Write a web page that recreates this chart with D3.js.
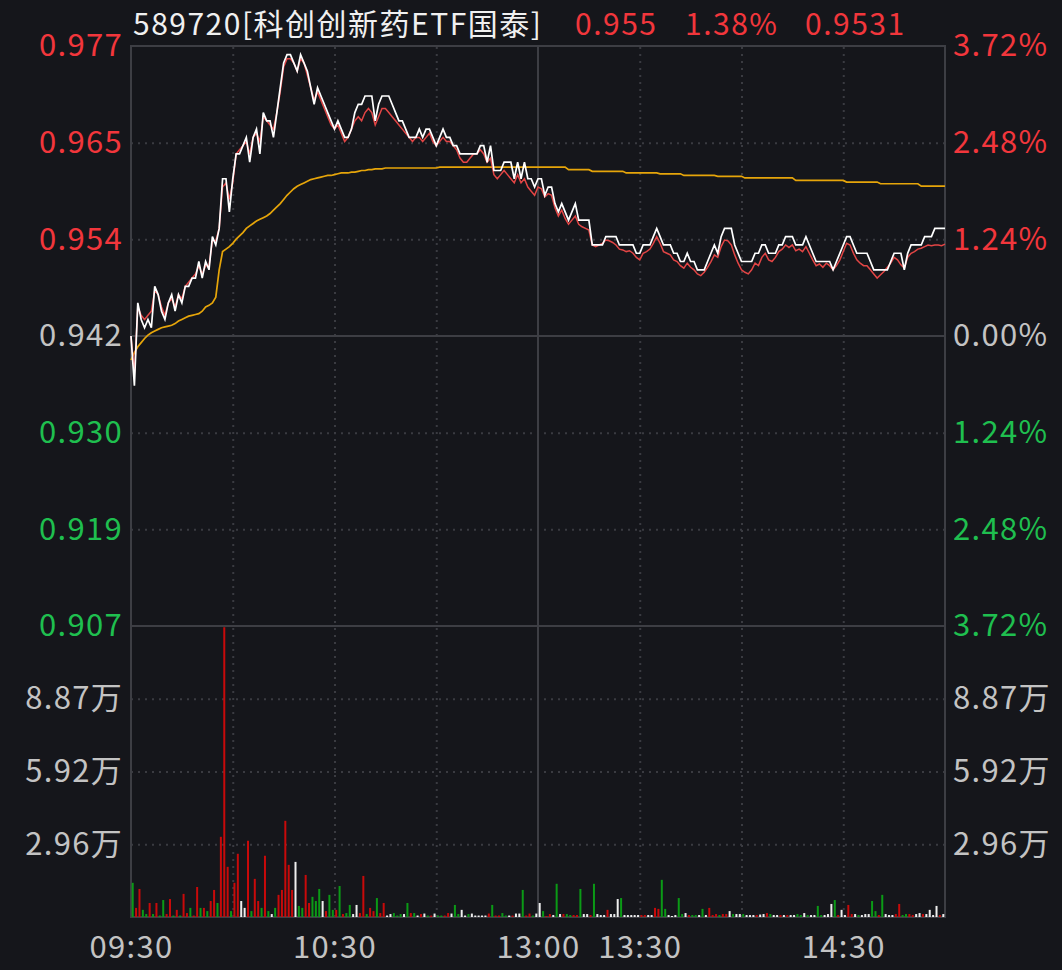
<!DOCTYPE html>
<html><head><meta charset="utf-8">
<script src="https://cdn.jsdelivr.net/npm/d3@7/dist/d3.min.js"></script>
<style>
html,body{margin:0;padding:0;background:#15161b;}
svg{display:block;}
text{font-family:"Noto Sans CJK SC","Noto Sans",sans-serif;}
</style></head>
<body><svg id="c" width="1062" height="970"></svg>
<script>
// ---------- data ----------
const titleName = "589720[科创创新药ETF国泰]";
const titleValues = ["0.955", "1.38%", "0.9531"];
const prevClose = 0.942;
const pctTicks = [3.72, 2.48, 1.24, 0, -1.24, -2.48, -3.72];
const priceTickLabels = ["0.977","0.965","0.954","0.942","0.930","0.919","0.907"];
const pctTickLabels = ["3.72%","2.48%","1.24%","0.00%","1.24%","2.48%","3.72%"];
const volTicks = [2.96, 5.92, 8.87];           // 万
const volTickLabels = ["2.96万","5.92万","8.87万"];
const volMax = 11.83;
const timeTickIdx = [0, 60, 120, 150, 210];
const timeTickLabels = ["09:30","10:30","13:00","13:30","14:30"];
const dottedTimeIdx = [30, 60, 90, 150, 180, 210];

// price (white), minute 0..240
const price = [
0.942,0.936,0.946,0.944,0.943,0.944,0.943,0.948,0.947,0.945,
0.944,0.946,0.947,0.945,0.947,0.946,0.948,0.948,0.949,0.949,
0.951,0.949,0.951,0.950,0.954,0.953,0.955,0.961,0.961,0.957,
0.961,0.964,0.964,0.965,0.966,0.963,0.966,0.967,0.964,0.969,
0.968,0.968,0.966,0.969,0.972,0.975,0.976,0.976,0.975,0.974,
0.976,0.975,0.974,0.972,0.970,0.972,0.971,0.970,0.969,0.968,
0.967,0.968,0.967,0.966,0.966,0.967,0.969,0.970,0.970,0.971,
0.971,0.971,0.968,0.970,0.971,0.971,0.971,0.970,0.969,0.968,
0.968,0.967,0.966,0.966,0.966,0.967,0.966,0.967,0.967,0.966,
0.965,0.966,0.967,0.966,0.966,0.965,0.965,0.964,0.964,0.964,
0.964,0.964,0.964,0.965,0.965,0.963,0.965,0.962,0.962,0.962,
0.963,0.963,0.963,0.961,0.963,0.961,0.963,0.961,0.961,0.960,
0.961,
0.961,0.959,0.960,0.960,0.958,0.957,0.958,0.957,0.956,
0.957,0.958,0.956,0.956,0.956,0.956,0.953,0.953,0.953,0.953,
0.954,0.954,0.954,0.954,0.953,0.953,0.953,0.953,0.953,0.952,
0.952,0.953,0.953,0.953,0.954,0.955,0.954,0.953,0.953,0.953,
0.952,0.952,0.951,0.951,0.952,0.951,0.951,0.950,0.950,0.950,
0.951,0.952,0.953,0.952,0.954,0.955,0.955,0.955,0.953,0.952,
0.951,0.951,0.951,0.951,0.952,0.952,0.953,0.953,0.952,0.952,
0.952,0.953,0.953,0.954,0.954,0.954,0.953,0.953,0.953,0.954,
0.953,0.952,0.951,0.951,0.951,0.951,0.951,0.950,0.951,0.952,
0.953,0.954,0.954,0.953,0.952,0.952,0.952,0.952,0.951,0.950,
0.950,0.950,0.950,0.950,0.951,0.952,0.952,0.952,0.950,0.952,
0.953,0.953,0.953,0.953,0.954,0.954,0.954,0.955,0.955,0.955,
0.955];

// IOPV (red), minute 0..240
const iopv = [
0.9420,0.9375,0.9455,0.9445,0.9440,0.9445,0.9450,0.9475,0.9470,0.9455,
0.9445,0.9460,0.9465,0.9455,0.9470,0.9465,0.9480,0.9485,0.9490,0.9495,
0.9505,0.9495,0.9505,0.9505,0.9535,0.9535,0.9550,0.9600,0.9605,0.9585,
0.9605,0.9640,0.9645,0.9650,0.9655,0.9640,0.9660,0.9665,0.9655,0.9685,
0.9680,0.9675,0.9670,0.9690,0.9715,0.9745,0.9755,0.9755,0.9750,0.9740,
0.9755,0.9750,0.9735,0.9720,0.9705,0.9715,0.9705,0.9695,0.9685,0.9675,
0.9670,0.9675,0.9665,0.9655,0.9660,0.9670,0.9680,0.9685,0.9680,0.9690,
0.9695,0.9690,0.9675,0.9685,0.9695,0.9695,0.9690,0.9685,0.9680,0.9675,
0.9670,0.9665,0.9660,0.9655,0.9660,0.9660,0.9655,0.9660,0.9665,0.9655,
0.9650,0.9655,0.9660,0.9655,0.9655,0.9650,0.9645,0.9635,0.9630,0.9630,
0.9635,0.9640,0.9640,0.9645,0.9640,0.9630,0.9635,0.9615,0.9610,0.9615,
0.9620,0.9615,0.9610,0.9605,0.9615,0.9605,0.9610,0.9600,0.9595,0.9590,
0.9600,
0.9598,0.9588,0.9592,0.9590,0.9575,0.9565,0.9572,0.9562,0.9555,
0.9560,0.9565,0.9555,0.9552,0.9550,0.9548,0.9530,0.9528,0.9530,0.9532,
0.9536,0.9535,0.9533,0.9530,0.9525,0.9524,0.9522,0.9523,0.9520,0.9515,
0.9512,0.9520,0.9522,0.9525,0.9532,0.9540,0.9532,0.9522,0.9520,0.9518,
0.9512,0.9510,0.9505,0.9502,0.9508,0.9503,0.9500,0.9495,0.9493,0.9497,
0.9503,0.9510,0.9518,0.9515,0.9528,0.9536,0.9535,0.9530,0.9518,0.9508,
0.9500,0.9497,0.9495,0.9500,0.9508,0.9505,0.9515,0.9520,0.9512,0.9510,
0.9515,0.9522,0.9525,0.9530,0.9527,0.9530,0.9523,0.9525,0.9522,0.9528,
0.9520,0.9512,0.9505,0.9507,0.9503,0.9508,0.9505,0.9500,0.9505,0.9512,
0.9522,0.9532,0.9530,0.9520,0.9512,0.9508,0.9505,0.9505,0.9500,0.9495,
0.9490,0.9494,0.9498,0.9503,0.9508,0.9515,0.9512,0.9506,0.9502,0.9515,
0.9520,0.9522,0.9525,0.9526,0.9528,0.9530,0.9529,0.9530,0.9530,0.9529,
0.9531];

// average price (yellow), minute 0..240
const avgPrice = [
0.9391,0.9400,0.9407,0.9412,0.9417,0.9421,0.9424,0.9426,0.9428,0.9430,
0.9431,0.9432,0.9433,0.9435,0.9438,0.9440,0.9442,0.9444,0.9445,0.9446,
0.9447,0.9450,0.9455,0.9457,0.9460,0.9467,0.9500,0.9522,0.9525,0.9528,
0.9532,0.9537,0.9541,0.9545,0.9550,0.9553,0.9556,0.9559,0.9561,0.9563,
0.9565,0.9568,0.9572,0.9576,0.9580,0.9585,0.9590,0.9594,0.9598,0.9601,
0.9603,0.9605,0.9607,0.9609,0.9610,0.9611,0.9612,0.9613,0.9614,0.9614,
0.9615,0.9616,0.9617,0.9617,0.9617,0.9618,0.9618,0.9619,0.9620,0.9620,
0.9621,0.9621,0.9622,0.9622,0.9622,0.9623,0.9623,0.9623,0.9623,0.9623,
0.9623,0.9623,0.9623,0.9623,0.9623,0.9623,0.9623,0.9623,0.9623,0.9623,
0.9623,0.9624,0.9624,0.9624,0.9624,0.9624,0.9624,0.9624,0.9624,0.9624,
0.9624,0.9624,0.9624,0.9624,0.9624,0.9624,0.9624,0.9624,0.9624,0.9624,
0.9624,0.9624,0.9624,0.9624,0.9624,0.9624,0.9624,0.9624,0.9624,0.9624,
0.9624,
0.9624,0.9624,0.9624,0.9624,0.9624,0.9624,0.9624,0.9624,0.9621,
0.9621,0.9621,0.9621,0.9621,0.9621,0.9621,0.9619,0.9619,0.9619,0.9619,
0.9619,0.9619,0.9619,0.9619,0.9619,0.9619,0.9617,0.9617,0.9617,0.9617,
0.9617,0.9617,0.9617,0.9617,0.9617,0.9617,0.9616,0.9616,0.9616,0.9616,
0.9616,0.9616,0.9616,0.9614,0.9614,0.9614,0.9614,0.9614,0.9614,0.9614,
0.9614,0.9614,0.9614,0.9613,0.9613,0.9613,0.9613,0.9613,0.9613,0.9613,
0.9613,0.9611,0.9611,0.9611,0.9611,0.9611,0.9611,0.9611,0.9611,0.9611,
0.9611,0.9611,0.9611,0.9611,0.9611,0.9611,0.9608,0.9608,0.9608,0.9608,
0.9608,0.9608,0.9608,0.9608,0.9608,0.9608,0.9608,0.9608,0.9608,0.9608,
0.9608,0.9606,0.9606,0.9606,0.9606,0.9606,0.9606,0.9606,0.9606,0.9606,
0.9606,0.9604,0.9604,0.9604,0.9604,0.9604,0.9604,0.9604,0.9604,0.9604,
0.9604,0.9604,0.9604,0.9601,0.9601,0.9601,0.9601,0.9601,0.9601,0.9601,
0.9601];

// volume per minute bar (万), 240 bars
const volume = [
1.39,0.37,1.14,0.29,0.12,0.57,0.12,0.57,0.06,0.69,
0.12,0.73,0.06,0.29,0.06,0.94,0.16,0.37,0.06,1.22,
0.37,0.37,0.24,0.65,1.10,0.57,3.26,11.78,2.04,0.24,
1.39,2.57,0.65,0.37,3.10,0.24,1.55,0.65,0.37,2.49,
0.24,0.12,0.37,0.90,1.10,3.91,2.12,1.10,2.24,0.45,
0.37,1.71,0.57,0.82,0.65,1.14,0.65,0.24,0.90,0.29,
0.29,1.26,0.12,0.16,0.49,0.12,0.49,0.16,1.67,0.12,
0.37,0.24,0.77,0.16,0.57,0.06,0.12,0.16,0.06,0.12,
0.12,0.57,0.16,0.16,0.06,0.12,0.14,0.06,0.06,0.14,
0.06,0.06,0.06,0.16,0.14,0.49,0.12,0.29,0.06,0.12,
0.14,0.06,0.06,0.06,0.06,0.14,0.49,0.06,0.06,0.16,
0.06,0.06,0.06,0.14,0.14,1.10,0.06,0.14,0.06,0.14,
0.57,0.24,0.04,0.12,0.08,1.35,0.12,0.12,0.12,0.08,
0.08,0.08,1.14,0.12,0.12,0.08,1.35,0.12,0.08,0.08,
0.29,0.12,0.12,0.73,0.77,0.08,0.08,0.08,0.08,0.08,
0.08,0.08,0.08,0.08,0.37,0.33,1.51,0.33,0.08,0.04,
0.08,0.77,0.12,0.16,0.08,0.08,0.08,0.08,0.33,0.08,
0.37,0.08,0.12,0.08,0.12,0.12,0.24,0.12,0.12,0.12,
0.12,0.08,0.08,0.08,0.08,0.10,0.12,0.16,0.12,0.08,
0.08,0.08,0.08,0.08,0.08,0.08,0.12,0.08,0.16,0.08,
0.08,0.08,0.45,0.08,0.08,0.12,0.53,0.69,0.08,0.29,
0.08,0.49,0.12,0.12,0.08,0.08,0.12,0.12,0.65,0.24,
0.08,0.90,0.12,0.08,0.08,0.12,0.53,0.08,0.12,0.12,
0.08,0.12,0.16,0.12,0.12,0.29,0.08,0.45,0.08,0.12];

// bar direction: r = up, g = down, w = flat
const volDir = (
"grrggrgrgg"+"rrgrgrrgrr"+"grgrrgrrrg"+"rrwwrgrrgr"+"gwgrrrrrwg"+"grrgggwrgg"+
"rgrggwwrrg"+"rrgrrwwggg"+"wgrgwrwgrw"+"ggrrwggwwg"+"wwwwwrgrrg"+"gwrwwgrrgw"+
"wgrrwgwrgg"+"rrgwwrgwww"+"rwwwgwwwww"+"rrwwrrggww"+"wggwrggwgw"+"rrrgrrwgww"+
"gwwwrwwrgw"+"wrwrwwggwg"+"wwggwwwgrw"+"wrrwgwwwgg"+"rgwwwrrggr"+"rwwrwwwwrw").split("");

// ---------- layout ----------
const L = 131, R = 945, T = 46, PB = 626, VB = 917;
const bg = "#15161b", gridSolid = "#3d3e44", gridDot = "#3a3b41";
const cRed = "#f2363c", cGreen = "#1fbf4f", cGrey = "#c3c3c3";
const FONT = "'Noto Sans CJK SC'", FS = 31, LS = 1.3;
const svg = d3.select("#c");
svg.append("rect").attr("width",1062).attr("height",970).attr("fill",bg);

const x = d3.scaleLinear().domain([0,240]).range([L,R]);
const xb = d3.scaleBand().domain(d3.range(240)).range([L,R]);
const y = d3.scaleLinear().domain([prevClose*(1+pctTicks[6]/100), prevClose*(1+pctTicks[0]/100)]).range([PB,T]);
const yv = d3.scaleLinear().domain([0, volMax]).range([VB, PB]);
const priceTicks = pctTicks.map(p => prevClose*(1+p/100));

// dotted gridlines
const gridG = svg.append("g");
gridG.append("g").attr("transform",`translate(${L},0)`)
  .call(d3.axisLeft(y).tickValues(priceTicks.filter((d,i)=>i!==0&&i!==3&&i!==6)).tickSize(-(R-L)).tickFormat(""))
  .call(g=>g.select(".domain").remove());
gridG.append("g").attr("transform",`translate(${L},0)`)
  .call(d3.axisLeft(yv).tickValues(volTicks).tickSize(-(R-L)).tickFormat(""))
  .call(g=>g.select(".domain").remove());
gridG.append("g").attr("transform",`translate(0,${VB})`)
  .call(d3.axisBottom(x).tickValues(dottedTimeIdx).tickSize(-(VB-T)).tickFormat(""))
  .call(g=>g.select(".domain").remove());
gridG.selectAll(".tick line").attr("stroke",gridDot).attr("stroke-width",2).attr("stroke-dasharray","2,5");

// solid lines
const solid = svg.append("g").attr("stroke",gridSolid).attr("stroke-width",2).attr("fill","none");
solid.append("rect").attr("x",L).attr("y",T).attr("width",R-L).attr("height",VB-T);
solid.append("line").attr("x1",L).attr("x2",R).attr("y1",y(prevClose)).attr("y2",y(prevClose));
solid.append("line").attr("x1",L).attr("x2",R).attr("y1",PB).attr("y2",PB);
solid.append("line").attr("x1",x(120)).attr("x2",x(120)).attr("y1",T).attr("y2",VB);

// volume bars
const volColor = {r:"#c80a0a", g:"#0b9a16", w:"#eeeeee"};
svg.append("g").selectAll("rect").data(volume).join("rect")
  .attr("x",(d,i)=>xb(i)+xb.bandwidth()/2-1)
  .attr("width",2)
  .attr("y",d=>yv(d))
  .attr("height",d=>Math.max(1,VB-yv(d)))
  .attr("fill",(d,i)=>volColor[volDir[i]]);

// lines
const line = d3.line().x((d,i)=>x(i)).y(d=>y(d));
svg.append("path").datum(avgPrice).attr("d",line).attr("fill","none").attr("stroke","#e6a50a").attr("stroke-width",1.7);
svg.append("path").datum(iopv).attr("d",line).attr("fill","none").attr("stroke","#e24545").attr("stroke-width",1.5);
svg.append("path").datum(price).attr("d",line).attr("fill","none").attr("stroke","#ffffff").attr("stroke-width",1.7);

// axes labels
const pColor = i => i<3 ? cRed : (i===3 ? cGrey : cGreen);
function styleText(sel, fill){
  sel.attr("font-size",FS).attr("font-family",FONT).attr("letter-spacing",LS).attr("fill",fill);
}
svg.append("g").attr("transform",`translate(${L},0)`)
  .call(d3.axisLeft(y).tickValues(priceTicks).tickSize(0).tickPadding(8).tickFormat((d,i)=>priceTickLabels[i]))
  .call(g=>g.select(".domain").remove())
  .selectAll("text").call(s=>styleText(s,(d,i)=>pColor(i)));
svg.append("g").attr("transform",`translate(${R},0)`)
  .call(d3.axisRight(y).tickValues(priceTicks).tickSize(0).tickPadding(8).tickFormat((d,i)=>pctTickLabels[i]))
  .call(g=>g.select(".domain").remove())
  .selectAll("text").call(s=>styleText(s,(d,i)=>pColor(i)));
svg.append("g").attr("transform",`translate(${L},0)`)
  .call(d3.axisLeft(yv).tickValues(volTicks).tickSize(0).tickPadding(8).tickFormat((d,i)=>volTickLabels[i]))
  .call(g=>g.select(".domain").remove())
  .selectAll("text").call(s=>styleText(s,cGrey));
svg.append("g").attr("transform",`translate(${R},0)`)
  .call(d3.axisRight(yv).tickValues(volTicks).tickSize(0).tickPadding(8).tickFormat((d,i)=>volTickLabels[i]))
  .call(g=>g.select(".domain").remove())
  .selectAll("text").call(s=>styleText(s,cGrey));
svg.append("g").attr("transform",`translate(0,${VB})`)
  .call(d3.axisBottom(x).tickValues(timeTickIdx).tickSize(0).tickPadding(19).tickFormat((d,i)=>timeTickLabels[i]))
  .call(g=>g.select(".domain").remove())
  .selectAll("text").call(s=>styleText(s,cGrey));

// title
const tg = svg.append("g").attr("font-size",30).attr("font-family",FONT).attr("letter-spacing",1.5);
tg.append("text").attr("x",133).attr("y",22).attr("dominant-baseline","central").attr("fill","#f0f0f0").text(titleName);
const tx = [575, 685, 805];
titleValues.forEach((t,i)=>tg.append("text").attr("x",tx[i]).attr("y",22).attr("dominant-baseline","central").attr("fill",cRed).text(t));
</script></body></html>
